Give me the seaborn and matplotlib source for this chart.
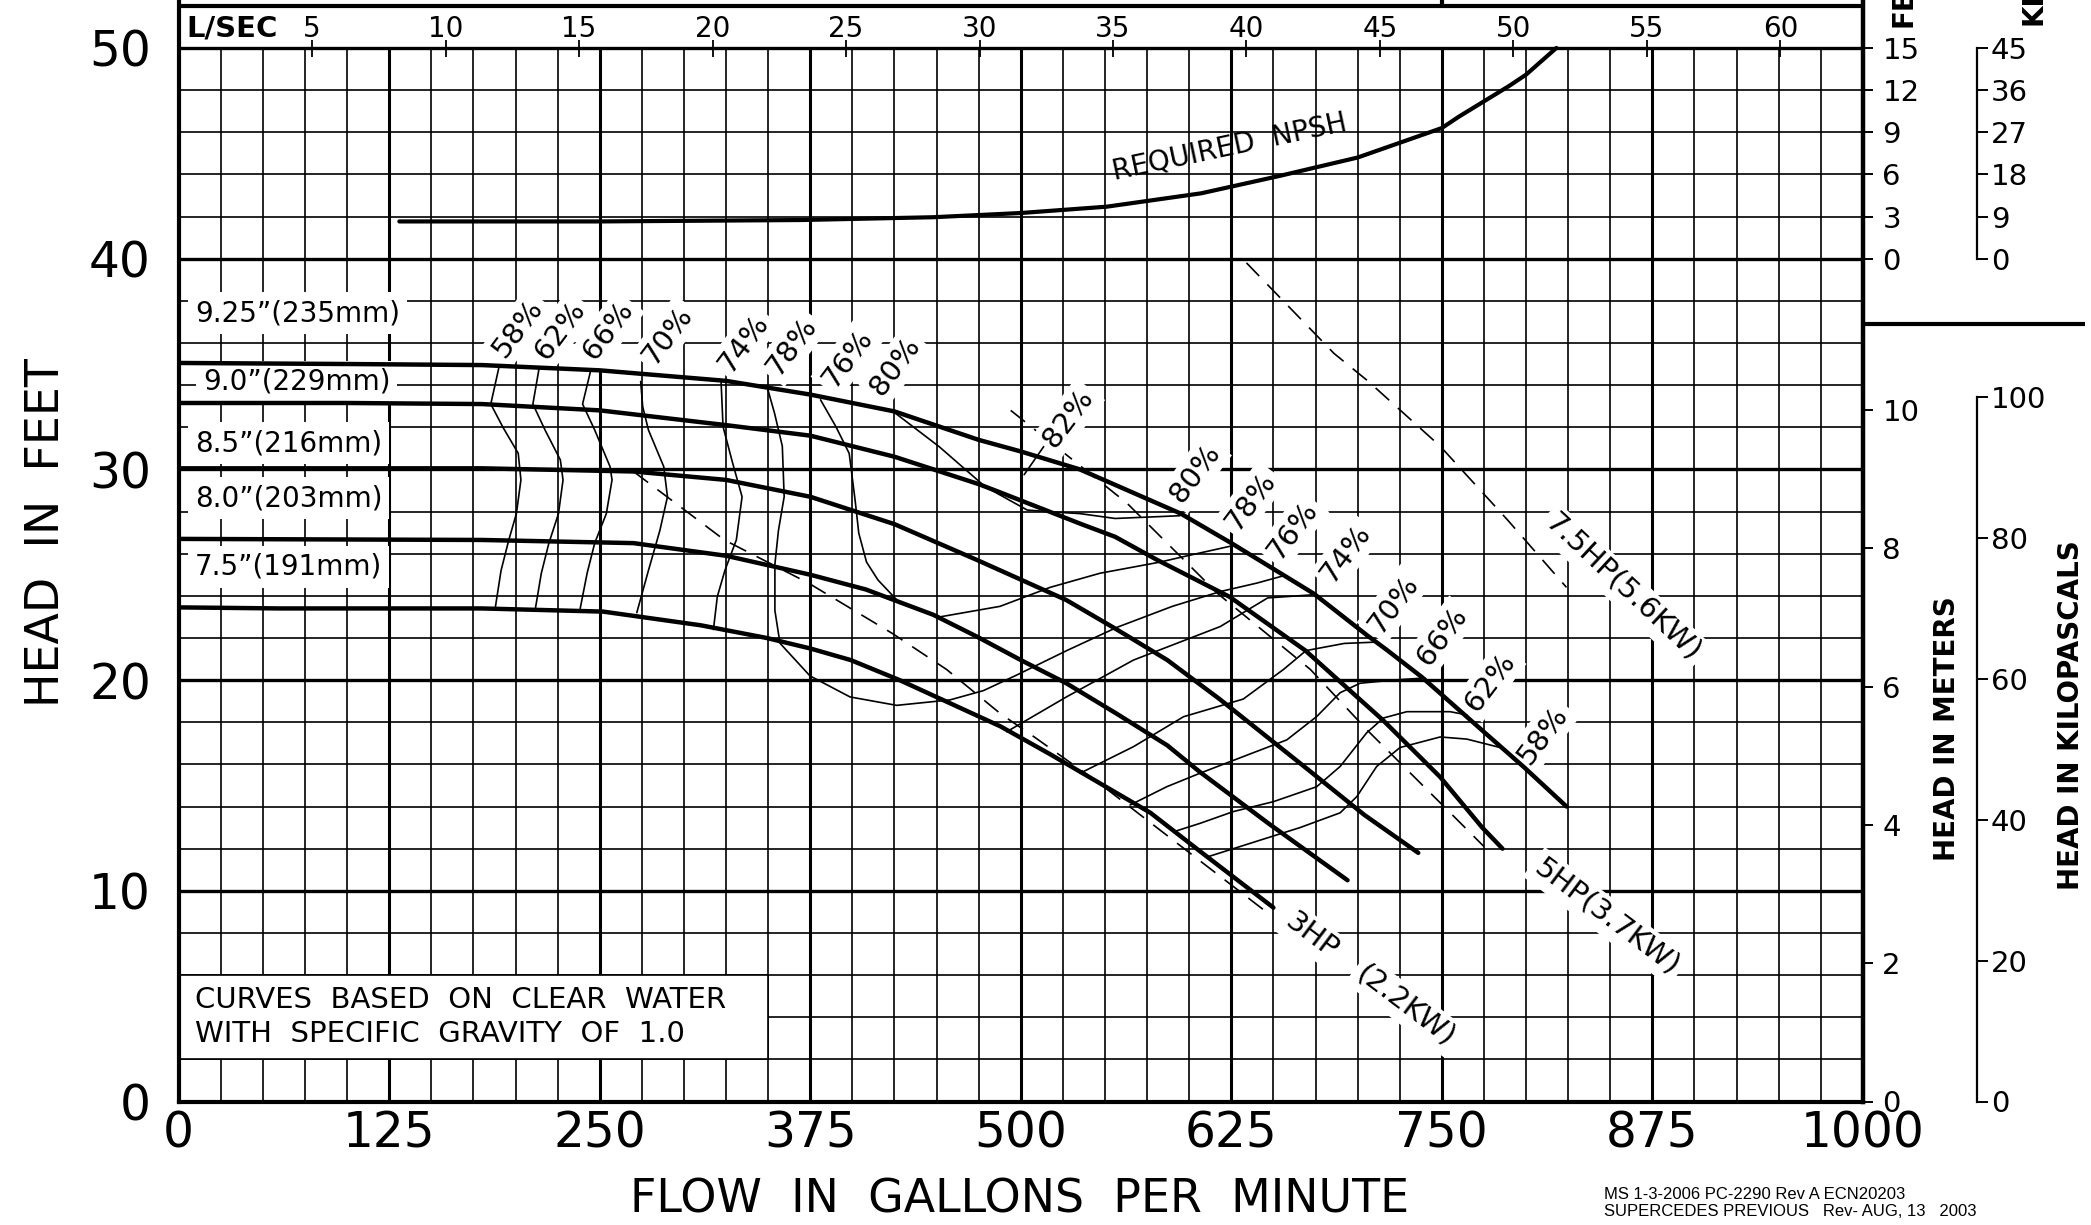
import matplotlib
matplotlib.use("Agg")
import matplotlib.pyplot as plt
import seaborn as sns
import pandas as pd
from matplotlib.patches import Rectangle

# ---------------- data ----------------
flow_ticks = [0, 125, 250, 375, 500, 625, 750, 875, 1000]
head_ticks = [0, 10, 20, 30, 40, 50]
lsec_ticks = [5, 10, 15, 20, 25, 30, 35, 40, 45, 50, 55, 60]
meter_ticks = [0, 2, 4, 6, 8, 10]
kpa_ticks = [0, 20, 40, 60, 80, 100]
npsh_ft_ticks = [0, 3, 6, 9, 12, 15]
npsh_kpa_ticks = [0, 9, 18, 27, 36, 45]

imp_names = ['9.25”(235mm)', '9.0”(229mm)', '8.5”(216mm)', '8.0”(203mm)', '7.5”(191mm)']
imp_label_q = [9.7, 14.4, 9.7, 9.7, 9.7]
imp_label_h = [37.42, 34.16, 31.24, 28.63, 25.38]

q_925 = [0, 100, 180, 250, 325, 375, 425, 475, 500, 535, 595, 625, 674, 706, 717, 738, 772, 799, 824]
h_925 = [35.05, 35.0, 34.95, 34.7, 34.2, 33.55, 32.75, 31.4, 30.85, 30.0, 27.9, 26.5, 24.1, 22.1, 21.45, 20.15, 17.75, 15.85, 14.0]
q_900 = [0, 100, 180, 250, 325, 375, 425, 475, 488, 536, 556, 581, 624, 669, 715, 749, 774, 786]
h_900 = [33.15, 33.15, 33.1, 32.8, 32.1, 31.6, 30.6, 29.3, 28.9, 27.4, 26.8, 25.7, 23.95, 21.4, 18.1, 15.4, 13.0, 12.0]
q_850 = [0, 180, 270, 325, 375, 425, 474, 527, 557, 587, 618, 669, 704, 736]
h_850 = [30.05, 30.05, 29.9, 29.5, 28.7, 27.4, 25.7, 23.8, 22.4, 20.95, 19.1, 15.85, 13.6, 11.8]
q_800 = [0, 180, 270, 325, 375, 408, 448, 474, 500, 527, 557, 587, 606, 647, 694]
h_800 = [26.7, 26.65, 26.5, 25.9, 25.0, 24.3, 23.1, 22.06, 20.95, 19.85, 18.4, 16.9, 15.66, 13.2, 10.5]
q_750 = [0, 60, 180, 252, 310, 349, 375, 399, 428, 458, 488, 517, 547, 577, 606, 650]
h_750 = [23.45, 23.4, 23.4, 23.25, 22.6, 22.0, 21.5, 20.95, 20.0, 18.9, 17.8, 16.5, 15.1, 13.7, 11.9, 9.2]

npsh_q = [131, 250, 369, 448, 500, 551, 607, 654, 700, 750, 760, 790, 800, 818]
npsh_ft = [2.65, 2.65, 2.75, 2.95, 3.25, 3.7, 4.65, 5.9, 7.2, 9.3, 10.1, 12.3, 13.1, 15.0]

hp3_q = [270, 324, 374, 424, 456, 488, 508, 545, 610, 649]
hp3_h = [29.9, 26.65, 24.6, 22.2, 20.5, 18.4, 17.3, 15.2, 11.2, 8.8]
hp5_q = [494, 563, 617, 672, 706, 755, 775]
hp5_h = [32.8, 28.4, 24.1, 20.5, 17.6, 13.7, 12.1]
hp75_q = [634, 686, 706, 749, 789, 824]
hp75_h = [39.8, 35.5, 34.2, 31.1, 27.6, 24.4]
hp_names = ['3HP', '(2.2KW)', '5HP(3.7KW)', '7.5HP(5.6KW)']
hp_label_q = [673, 728.4, 847.9, 857.5]
hp_label_h = [7.85, 4.56, 8.77, 24.4]

e58l_q = [190.3, 185.3, 192.5, 201.6, 203.2, 200.5, 196, 191.4, 188]
e58l_h = [34.9, 33.1, 32.0, 30.76, 29.5, 27.9, 26.65, 25.2, 23.45]
e62l_q = [214.1, 210.3, 217.5, 226.6, 228.2, 225.5, 219.8, 215.3, 211.8]
e62l_h = [34.85, 33.1, 31.87, 30.45, 29.5, 27.9, 26.5, 25.07, 23.4]
e66l_q = [244.8, 239.8, 247, 256.1, 257.3, 253.9, 247, 242.5, 238.4]
e66l_h = [34.75, 33.1, 31.87, 30.13, 29.5, 27.9, 26.5, 25.07, 23.4]
e70l_q = [274.3, 275.5, 278.9, 288, 290.2, 285.7, 278.9, 272]
e70l_h = [34.17, 32.98, 31.87, 30.13, 28.7, 27.1, 25.2, 23.2]
e74l_q = [322, 323.2, 328.9, 334.5, 331.1, 324.3, 319.8, 317.5]
e74l_h = [34.24, 32.03, 30.3, 28.7, 26.65, 25.2, 23.96, 22.4]
e78_q = [349.3, 353.8, 358.4, 359.5, 356.1, 354, 354, 357, 374.8, 398.6, 426.3, 458, 477.8, 497.6, 527.3, 557, 590, 618.4, 640, 656]
e78_h = [33.93, 32.66, 31.1, 28.7, 27.1, 25.5, 23.3, 21.75, 20.2, 19.2, 18.8, 19.06, 19.5, 20.24, 21.4, 22.5, 23.5, 24.2, 24.6, 24.95]
e76_q = [381.1, 390.2, 398.1, 401.6, 403.8, 408.4, 415.2, 428.3, 452, 487.7, 517.4, 547, 582.7, 596.7, 627]
e76_h = [33.3, 32.03, 30.76, 28.55, 26.97, 25.6, 24.75, 23.64, 23.0, 23.5, 24.4, 25.07, 25.6, 25.86, 26.4]
e80_q = [424.3, 451.5, 478.8, 503.8, 517, 535.2, 556, 594.4]
e80_h = [32.74, 31.08, 29.18, 28.07, 27.99, 27.9, 27.67, 27.8]
e82_q = [502, 515.5]
e82_h = [29.75, 31.3]
e74r_q = [491.7, 527.3, 566.9, 618.4, 646.6, 674]
e74r_h = [17.55, 19.21, 20.95, 22.54, 23.9, 24.05]
e70r_q = [535.2, 566.9, 596.6, 632.1, 655.9, 669.4, 692.1, 710.3]
e70r_h = [15.58, 16.84, 18.26, 19.1, 20.5, 21.4, 21.74, 21.8]
e66r_q = [564.9, 586.7, 606.4, 632.1, 657.9, 675.7, 689.6, 701.4, 721.2, 740]
e66r_h = [14.07, 14.94, 15.58, 16.37, 17.16, 18.27, 19.4, 19.85, 20.0, 20.1]
e62r_q = [590.7, 606.4, 626.2, 650, 675.7, 689.6, 705.4, 715.3, 729.2, 754.9, 764.8]
e62r_h = [12.8, 13.2, 13.76, 14.23, 14.94, 15.9, 17.5, 18.2, 18.5, 18.5, 18.35]
e58r_q = [610.5, 642, 665.8, 689.6, 699.5, 711.3, 725.2, 749, 764.8, 784.6]
e58r_h = [11.6, 12.4, 13.0, 13.7, 14.47, 15.9, 16.8, 17.3, 17.2, 16.8]

eff_left_pct = [58, 62, 66, 70, 74, 78, 76, 80]
eff_left_q = [201.6, 226.6, 255, 290.2, 335.7, 364.1, 397, 425.4]
eff_left_h = [36.7, 36.6, 36.6, 36.38, 35.98, 35.83, 35.27, 34.88]
eff_right_pct = [80, 78, 76, 74, 70, 66, 62, 58]
eff_right_q = [603.5, 636.4, 661.4, 693.2, 721.2, 750, 778.4, 810.2]
eff_right_h = [29.8, 28.5, 27.1, 26.0, 23.6, 22.1, 19.9, 17.4]
eff_peak_pct = [82]
eff_peak_q = [528.2]
eff_peak_h = [32.42]

note_lines = ['CURVES  BASED  ON  CLEAR  WATER', 'WITH  SPECIFIC  GRAVITY  OF  1.0']
footnote = ['MS 1-3-2006 PC-2290 Rev A ECN20203', 'SUPERCEDES PREVIOUS   Rev- AUG, 13   2003']

# ---------------- style ----------------
sns.set_theme(style="white")
plt.rcParams['font.family'] = ['DejaVu Sans']
plt.rcParams['axes.edgecolor'] = 'black'
plt.rcParams['text.color'] = 'black'
plt.rcParams['xtick.color'] = 'black'
plt.rcParams['ytick.color'] = 'black'
plt.rcParams['axes.labelcolor'] = 'black'

W, H = 2091, 1225
fig = plt.figure(figsize=(W / 100, H / 100), dpi=100)
ax = fig.add_axes([178.7 / W, 123.5 / H, (1862.9 - 178.7) / W, 0.8996])
ax.set_xlim(0, 1000)
ax.set_ylim(0, 52.3)

# grid (only inside 0..50 ft)
minor_x = [q for q in range(25, 1000, 25) if q % 125]
major_x = [125 * i for i in range(1, 8)]
minor_y = [h for h in range(2, 50, 2) if h % 10]
major_y = [10, 20, 30, 40, 50]
ax.vlines(minor_x, 0, 50, color='black', lw=1.2, zorder=1)
ax.vlines(major_x, 0, 50, color='black', lw=2.2, zorder=1)
ax.hlines(minor_y, 0, 1000, color='black', lw=1.2, zorder=1)
ax.hlines(major_y, 0, 1000, color='black', lw=2.4, zorder=1)
# top band frame
ax.hlines([52.0], 0, 1000, color='black', lw=3, zorder=2, clip_on=False)
ax.vlines([750], 52.0, 52.3, color='black', lw=3, zorder=2, clip_on=False)

# note box
ax.add_patch(Rectangle((0, 2), 350, 4, facecolor='white', edgecolor='black', lw=1.2, zorder=2))
for i, t in enumerate(note_lines):
    ax.text(9.6, [4.82, 3.2][i], t, fontsize=21, ha='left', va='center', zorder=3)

# impeller curves
imp_df = pd.concat([
    pd.DataFrame({'gpm': q, 'ft': h, 'imp': n}) for q, h, n in
    zip([q_925, q_900, q_850, q_800, q_750], [h_925, h_900, h_850, h_800, h_750], imp_names)
])
sns.lineplot(data=imp_df, x='gpm', y='ft', units='imp', estimator=None, sort=False,
             color='black', lw=3.2, ax=ax, zorder=5, legend=False)

# efficiency lines
eff_sets = [(e58l_q, e58l_h), (e62l_q, e62l_h), (e66l_q, e66l_h), (e70l_q, e70l_h),
            (e74l_q, e74l_h), (e78_q, e78_h), (e76_q, e76_h), (e80_q, e80_h), (e82_q, e82_h),
            (e74r_q, e74r_h), (e70r_q, e70r_h), (e66r_q, e66r_h), (e62r_q, e62r_h), (e58r_q, e58r_h)]
eff_df = pd.concat([pd.DataFrame({'gpm': q, 'ft': h, 'line': i}) for i, (q, h) in enumerate(eff_sets)])
sns.lineplot(data=eff_df, x='gpm', y='ft', units='line', estimator=None, sort=False,
             color='black', lw=1.2, ax=ax, zorder=3, legend=False)

# power lines (dashed)
hp_df = pd.concat([pd.DataFrame({'gpm': q, 'ft': h, 'hp': n}) for q, h, n in
                   [(hp3_q, hp3_h, '3'), (hp5_q, hp5_h, '5'), (hp75_q, hp75_h, '7.5')]])
sns.lineplot(data=hp_df, x='gpm', y='ft', units='hp', estimator=None, sort=False,
             color='black', lw=1.2, linestyle=(0, (11, 7)), ax=ax, zorder=3, legend=False)

# NPSH curve (0..15 ft NPSH mapped on 40..50 ft of main axis)
npsh_df = pd.DataFrame({'gpm': npsh_q, 'ft': [40 + v / 1.5 for v in npsh_ft]})
sns.lineplot(data=npsh_df, x='gpm', y='ft', estimator=None, sort=False,
             color='black', lw=3.0, ax=ax, zorder=5, legend=False)
ax.text(624, 45.3, 'REQUIRED  NPSH', fontsize=20, rotation=12, ha='center', va='center',
        rotation_mode='anchor', zorder=4)

# labels
wb = dict(facecolor='white', edgecolor='none', boxstyle='square,pad=0.25')
for n, q, h in zip(imp_names, imp_label_q, imp_label_h):
    ax.text(q, h, n, fontsize=20, ha='left', va='center', bbox=wb, zorder=4)
eb = dict(facecolor='white', edgecolor='none', boxstyle='square,pad=0.15')
for p, q, h in zip(eff_left_pct + eff_right_pct + eff_peak_pct,
                   eff_left_q + eff_right_q + eff_peak_q,
                   eff_left_h + eff_right_h + eff_peak_h):
    ax.text(q, h, f'{p}%', fontsize=21, rotation=53, rotation_mode='anchor',
            ha='center', va='center', bbox=eb, zorder=4)
for n, q, h, r in zip(hp_names, hp_label_q, hp_label_h, [-37, -37, -37, -43]):
    ax.text(q, h, n, fontsize=21, rotation=r, rotation_mode='anchor',
            ha='center', va='center', bbox=eb, zorder=4)

# L/SEC band
ax.vlines([v * 15.85 for v in lsec_ticks], 49.57, 50.38, color='black', lw=1.3, zorder=3)
for v in lsec_ticks:
    ax.text(v * 15.85, 50.9, str(v), fontsize=20, ha='center', va='center')
ax.text(4.5, 50.9, 'L/SEC', fontsize=21, fontweight='bold', ha='left', va='center')

# main axes ticks / spines
ax.set_xticks(flow_ticks)
ax.set_xticklabels([str(v) for v in flow_ticks])
ax.set_yticks(head_ticks)
ax.set_yticklabels([str(v) for v in head_ticks])
ax.tick_params(axis='both', length=0, labelsize=35, colors='black')
ax.tick_params(axis='y', pad=20)
ax.tick_params(axis='x', pad=6)
ax.set_xlabel('')
ax.set_ylabel('')
for s in ['left', 'bottom', 'right']:
    ax.spines[s].set_linewidth(3)
    ax.spines[s].set_color('black')
ax.spines['top'].set_visible(False)

# secondary scales
sec_m = ax.secondary_yaxis(1.0, functions=(lambda y: y * 0.3048, lambda m: m / 0.3048))
sec_m.set_yticks(meter_ticks)
sec_npsh = ax.secondary_yaxis(1.0, functions=(lambda y: (y - 40) * 1.5, lambda v: v / 1.5 + 40))
sec_npsh.set_yticks(npsh_ft_ticks)
kx = (1977 - 178.7) / (1862.9 - 178.7)
sec_kpa = ax.secondary_yaxis(kx, functions=(lambda y: y * 0.3048 * 9.80665, lambda k: k / (0.3048 * 9.80665)))
sec_kpa.set_yticks(kpa_ticks)
sec_kpa.spines['right'].set_bounds(0, 100)
sec_nk = ax.secondary_yaxis(kx, functions=(lambda y: (y - 40) * 4.5, lambda k: k / 4.5 + 40))
sec_nk.set_yticks(npsh_kpa_ticks)
sec_nk.spines['right'].set_bounds(0, 45)
for s in [sec_m, sec_npsh]:
    s.tick_params(direction='out', length=7, width=1.4, pad=7, labelsize=21, colors='black')
    s.spines['right'].set_linewidth(3)
    s.spines['right'].set_color('black')
for s in [sec_kpa, sec_nk]:
    s.tick_params(direction='out', length=8, width=1.4, pad=2, labelsize=21, colors='black')
    s.spines['right'].set_linewidth(1.6)
    s.spines['right'].set_color('black')

ax.hlines([36.9], 1.0, 1.132, transform=ax.get_yaxis_transform(), color='black', lw=3, clip_on=False)

# axis titles
fig.text(0.0223, 0.565, 'HEAD  IN  FEET', fontsize=33, rotation=90, ha='center', va='center')
fig.text(0.4878, 0.0204, 'FLOW  IN  GALLONS  PER  MINUTE', fontsize=33, ha='center', va='center')
fig.text(0.9311, 0.4049, 'HEAD IN METERS', fontsize=20, fontweight='bold', rotation=90, ha='center', va='center')
fig.text(0.9904, 0.4163, 'HEAD IN KILOPASCALS', fontsize=20, fontweight='bold', rotation=90, ha='center', va='center')
fig.text(0.9101, 0.978, 'FEET', fontsize=20, fontweight='bold', rotation=90, ha='center', va='bottom')
fig.text(0.9723, 0.9796, 'KPA', fontsize=20, fontweight='bold', rotation=90, ha='center', va='bottom')
fig.text(0.767, 0.0253, footnote[0], fontsize=12, ha='left', va='center', family=['Liberation Sans', 'DejaVu Sans'])
fig.text(0.767, 0.0114, footnote[1], fontsize=12, ha='left', va='center', family=['Liberation Sans', 'DejaVu Sans'])

fig.savefig('out.png', dpi=100, facecolor='white')
